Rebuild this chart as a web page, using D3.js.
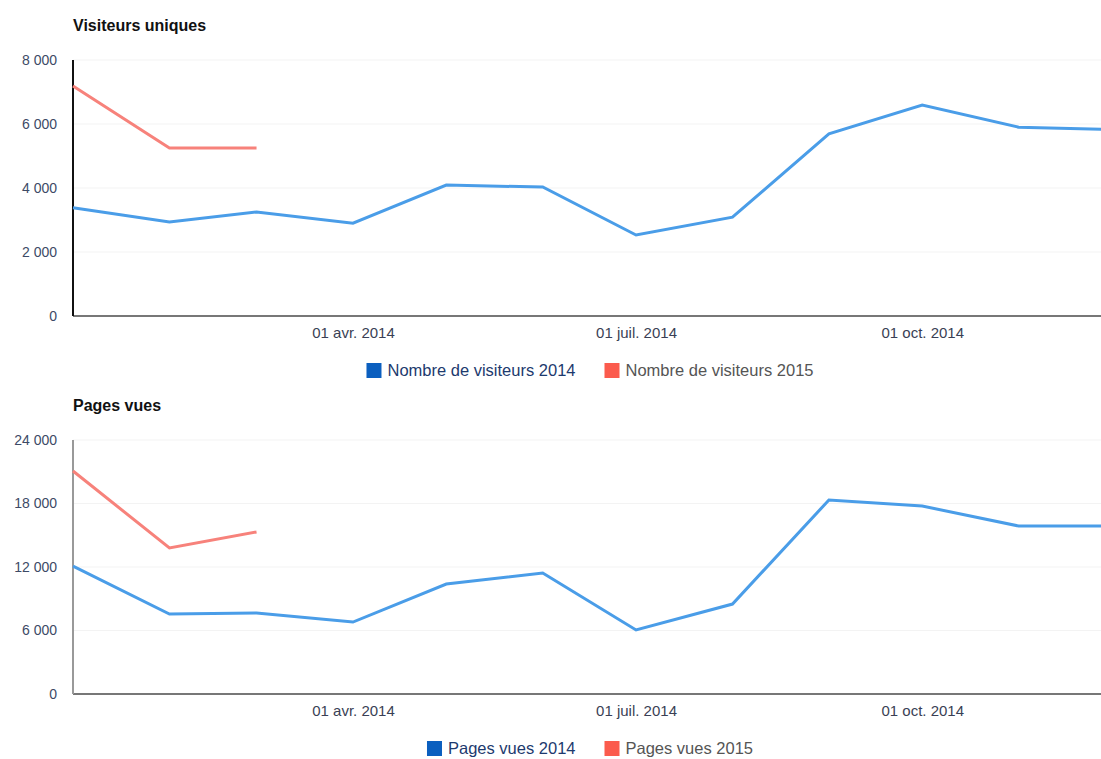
<!DOCTYPE html>
<html>
<head>
<meta charset="utf-8">
<script src="https://cdn.jsdelivr.net/npm/d3@7"></script>
<style>
  body { margin: 0; background: #fff; }
  svg { font-family: Arial, "Liberation Sans", sans-serif; }
</style>
</head>
<body>
<svg width="1101" height="759"></svg>
<script>
// data
var months = ['2014-01-01', '2014-02-01', '2014-03-01', '2014-04-01', '2014-05-01', '2014-06-01',
  '2014-07-01', '2014-08-01', '2014-09-01', '2014-10-01', '2014-11-01', '2014-12-01'];
var visiteurs2014 = [3380, 2940, 3250, 2900, 4090, 4030, 2530, 3090, 5690, 6590, 5900, 5830];
var visiteurs2015 = [7190, 5250, 5250];
var pages2014 = [12090, 7560, 7650, 6800, 10390, 11430, 6050, 8500, 18330, 17760, 15870, 15870];
var pages2015 = [21070, 13800, 15310];
var xTicks = ['2014-04-01', '2014-07-01', '2014-10-01'];
var xTickLabels = ['01 avr. 2014', '01 juil. 2014', '01 oct. 2014'];
var visiteursTicks = [0, 2000, 4000, 6000, 8000];
var pagesTicks = [0, 6000, 12000, 18000, 24000];

var parse = d3.timeParse('%Y-%m-%d');
var left = 73;
var right = 1112; // plot runs a little past the right edge of the picture
var edge = 1101;
var fr = d3.formatLocale({ decimal: ',', thousands: ' ', grouping: [3], currency: ['', ' €'] });
var fmt = fr.format(',d');
var blue = '#4a9de8';
var red = '#f7827b';

var svg = d3.select('svg');

function drawChart(opts) {
  var xScale = d3.scaleTime()
    .domain([parse(months[0]), parse(months[months.length - 1])])
    .range([left, right]);
  var yScale = d3.scaleLinear()
    .domain([0, opts.ticks[opts.ticks.length - 1]])
    .range([opts.bottom, opts.top]);

  var g = svg.append('g');

  g.append('text')
    .attr('x', left)
    .attr('y', opts.top - 29)
    .attr('font-size', 16)
    .attr('font-weight', 'bold')
    .attr('fill', '#111')
    .text(opts.title);

  // faint grid
  g.append('g')
    .selectAll('line')
    .data(opts.ticks.slice(1))
    .enter()
    .append('line')
    .attr('x1', left)
    .attr('x2', edge)
    .attr('y1', (d) => yScale(d))
    .attr('y2', (d) => yScale(d))
    .attr('stroke', '#f3f3f3');

  var yAxis = d3.axisLeft(yScale)
    .tickValues(opts.ticks)
    .tickFormat(fmt)
    .tickSize(0)
    .tickPadding(16);
  var ya = g.append('g')
    .attr('transform', 'translate(' + left + ',0)')
    .call(yAxis);
  ya.select('.domain').remove();
  ya.selectAll('text')
    .attr('font-size', 14)
    .attr('fill', '#3d4a66');

  var tickMap = {};
  xTicks.forEach((t, i) => { tickMap[+parse(t)] = xTickLabels[i]; });
  var xAxis = d3.axisBottom(xScale)
    .tickValues(xTicks.map(parse))
    .tickFormat((d) => tickMap[+d])
    .tickSize(0)
    .tickPadding(11);
  var xa = g.append('g')
    .attr('transform', 'translate(0,' + opts.bottom + ')')
    .call(xAxis);
  xa.select('.domain').remove();
  xa.selectAll('text')
    .attr('font-size', 15)
    .attr('fill', '#3a3f55');

  g.append('line')
    .attr('x1', left).attr('x2', edge)
    .attr('y1', opts.bottom).attr('y2', opts.bottom)
    .attr('stroke', '#777').attr('stroke-width', 2);
  g.append('line')
    .attr('x1', left).attr('x2', left)
    .attr('y1', opts.top).attr('y2', opts.bottom)
    .attr('stroke', opts.axisColor).attr('stroke-width', 2);

  var line = d3.line()
    .x((d, i) => xScale(parse(months[i])))
    .y((d) => yScale(d));

  g.append('path')
    .datum(opts.s2014)
    .attr('d', line)
    .attr('fill', 'none')
    .attr('stroke', blue)
    .attr('stroke-width', 3);
  g.append('path')
    .datum(opts.s2015)
    .attr('d', line)
    .attr('fill', 'none')
    .attr('stroke', red)
    .attr('stroke-width', 3);

  // legend, centred under the plot
  var lg = g.append('g');
  var items = [
    { label: opts.labels[0], color: '#0b5fbf', text: '#1d3a6e' },
    { label: opts.labels[1], color: '#fb5b4d', text: '#555' },
  ];
  var x = 0;
  items.forEach((it) => {
    var ig = lg.append('g');
    ig.append('rect')
      .attr('x', 0).attr('y', -13)
      .attr('width', 15).attr('height', 15)
      .attr('fill', it.color);
    var t = ig.append('text')
      .attr('x', 21)
      .attr('font-size', 16.5)
      .attr('fill', it.text)
      .text(it.label);
    var w = 21 + t.node().getComputedTextLength();
    ig.attr('transform', 'translate(' + x + ',0)');
    x += w + 29;
  });
  var total = x - 29;
  lg.attr('transform', 'translate(' + (590 - total / 2) + ',' + (opts.bottom + 60) + ')');
}

drawChart({
  title: 'Visiteurs uniques',
  top: 60,
  bottom: 316,
  ticks: visiteursTicks,
  s2014: visiteurs2014,
  s2015: visiteurs2015,
  labels: ['Nombre de visiteurs 2014', 'Nombre de visiteurs 2015'],
  axisColor: '#111',
});

drawChart({
  title: 'Pages vues',
  top: 440,
  bottom: 694,
  ticks: pagesTicks,
  s2014: pages2014,
  s2015: pages2015,
  labels: ['Pages vues 2014', 'Pages vues 2015'],
  axisColor: '#999',
});
</script>
</body>
</html>
